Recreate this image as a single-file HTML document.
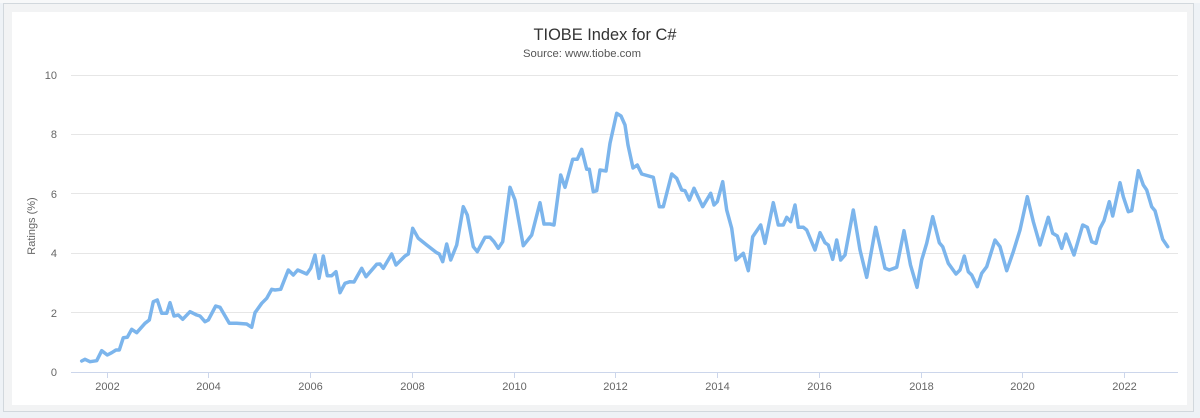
<!DOCTYPE html>
<html>
<head>
<meta charset="utf-8">
<style>
  html,body{margin:0;padding:0;background:#eef2f6;}
  svg{display:block;}
  text{font-family:"Liberation Sans","DejaVu Sans",sans-serif;}
</style>
</head>
<body>
<svg width="1200" height="418" viewBox="0 0 1200 418" xmlns="http://www.w3.org/2000/svg">
  <rect x="0" y="0" width="1200" height="418" fill="#eef2f6"/>
  <rect x="0" y="0" width="1200" height="3" fill="#f7f8f9"/>
  <!-- frame -->
  <rect x="3.5" y="3.5" width="1190" height="408" fill="#f2f3f4" stroke="#d2d8dd" stroke-width="1"/>
  <rect x="12" y="12" width="1175" height="393" fill="#ffffff"/>

  <!-- title -->
  <text x="605" y="40" text-anchor="middle" font-size="17" fill="#333333" textLength="143" lengthAdjust="spacingAndGlyphs">TIOBE Index for C#</text>
  <text x="582" y="57" text-anchor="middle" font-size="11" fill="#555555" textLength="118" lengthAdjust="spacingAndGlyphs">Source: www.tiobe.com</text>

  <!-- gridlines -->
  <g stroke="#e6e6e6" stroke-width="1">
    <line x1="71" y1="75.5" x2="1178" y2="75.5"/>
    <line x1="71" y1="134.5" x2="1178" y2="134.5"/>
    <line x1="71" y1="193.5" x2="1178" y2="193.5"/>
    <line x1="71" y1="253.5" x2="1178" y2="253.5"/>
    <line x1="71" y1="312.5" x2="1178" y2="312.5"/>
  </g>
  <line x1="71" y1="372.5" x2="1178" y2="372.5" stroke="#ccd6eb" stroke-width="1"/>
  <g stroke="#ccd6eb" stroke-width="1">
    <line x1="107.5" y1="372" x2="107.5" y2="378"/>
    <line x1="208.5" y1="372" x2="208.5" y2="378"/>
    <line x1="310.5" y1="372" x2="310.5" y2="378"/>
    <line x1="412.5" y1="372" x2="412.5" y2="378"/>
    <line x1="514.5" y1="372" x2="514.5" y2="378"/>
    <line x1="615.5" y1="372" x2="615.5" y2="378"/>
    <line x1="717.5" y1="372" x2="717.5" y2="378"/>
    <line x1="819.5" y1="372" x2="819.5" y2="378"/>
    <line x1="921.5" y1="372" x2="921.5" y2="378"/>
    <line x1="1022.5" y1="372" x2="1022.5" y2="378"/>
    <line x1="1124.5" y1="372" x2="1124.5" y2="378"/>
  </g>

  <!-- y labels -->
  <g font-size="11" fill="#666666" text-anchor="end">
    <text x="57" y="79">10</text>
    <text x="57" y="138">8</text>
    <text x="57" y="198">6</text>
    <text x="57" y="257">4</text>
    <text x="57" y="317">2</text>
    <text x="57" y="376">0</text>
  </g>
  <text transform="translate(35,226) rotate(-90)" text-anchor="middle" font-size="11" fill="#666666">Ratings (%)</text>

  <!-- x labels -->
  <g font-size="11" fill="#666666" text-anchor="middle">
    <text x="107.5" y="390">2002</text>
    <text x="208.5" y="390">2004</text>
    <text x="310.5" y="390">2006</text>
    <text x="412.5" y="390">2008</text>
    <text x="514.5" y="390">2010</text>
    <text x="615.5" y="390">2012</text>
    <text x="717.5" y="390">2014</text>
    <text x="819.5" y="390">2016</text>
    <text x="921.5" y="390">2018</text>
    <text x="1022.5" y="390">2020</text>
    <text x="1124.5" y="390">2022</text>
  </g>

  <!-- series -->
  <polyline fill="none" stroke="#7cb5ec" stroke-width="3.5" stroke-linejoin="round" stroke-linecap="round"
    points="81.7,361 85,359.3 90,361.7 96.7,360.7 101.7,350.7 107.3,355 111.7,352.7 116,350 119.3,350 123.3,337.7 127.3,337.3 131.7,329.3 136.7,332.7 145,323.3 149.3,320 153.3,301.7 157.3,300 161.7,313.3 166.7,313.3 170,302.7 174,316 178.3,315 182.7,319.3 190,311.7 196.7,315 200,316 205,321.7 208.3,320 215.7,306 220,307.3 229.3,323.3 236.7,323.3 246.7,324 251.7,327.3 255,312.7 261.7,303.3 266.7,298.3 271.7,289.3 275,290 280.7,289.3 288.3,270 293.3,275 297.7,270 306.7,274 310.7,268.3 315,255 319,278.3 323.3,256 327.3,275.7 331.7,275.7 336,271.7 340,292.7 345,283.3 350,281.7 354,282 361.7,268.3 366,276.7 376.7,264.3 380,264 383.3,268.3 391.7,254 396,265 405,256 408.3,254 412.7,228.3 418.3,238.3 426.7,245 436.7,252.7 439.3,254 442.7,261.7 446.7,244 450.7,260 456.7,245 463.3,206.7 467.3,215 473.3,246.7 477.3,251.7 485,237.3 490,237.3 494,241.7 498.3,248.3 502.7,241.7 510,187.3 515,200 523.3,245.7 531.7,235 540,202.7 544,224 550,224 554,225 560.7,175 565,187.3 572.7,159.3 577.3,159.3 581.7,149.3 586.7,169.3 589.3,169.3 593.3,191.7 596.7,190.7 600,170 606,171 610,143.3 616.7,113.3 621,116 625,125 628,145 633,168 637.3,165 641.7,174 653.3,177.3 659.3,206.7 663.3,206.7 671.7,174 676.7,178.3 681.7,190 685,190.7 689.3,200 694,188.3 702.7,206.7 710.7,193.3 714,205 717.3,201.7 722.7,181.7 726.7,210 731.7,228.3 736,260 743.3,253.3 748.3,270.7 752.7,236.7 760.7,225 765,243.3 773.3,202.7 778.3,225 783.3,225 786.7,217.3 790.7,221.7 795,205 798.3,227.3 803.3,227.3 806.7,230 815,250 820,232.7 825,242.7 828.3,245 832.7,259.3 836.7,240 840.7,260 845,255 853.3,210 860,250 866.7,277.3 875.7,227.3 885,268.3 889.3,270 896.7,267.3 904,230.7 910.5,265 917,287.3 921.7,260 926.7,243.3 932.7,216.7 939.3,242.7 942.7,246.7 948.3,263.3 956,274 960,270 964.3,256 968.3,271.7 971.7,275 977.3,286.7 981.7,273.3 986.7,266.7 995,240 1000,246.7 1006.7,270.7 1013.3,251.7 1020,230 1027.3,196.7 1033.3,221.7 1040,245 1048.3,217.3 1052.7,233.3 1057.3,236 1061.7,248.3 1066,234 1074,255 1082.7,225 1087.3,227.3 1091.7,241.7 1096,243.3 1100,228.3 1104,220.7 1109.3,201.7 1112.7,216 1120,182.7 1123.3,196.7 1128.3,211.7 1131.7,210.7 1138.3,170.7 1143.3,185 1146.7,190 1151.7,206.7 1155,210.7 1162.7,239.3 1167.7,246.7"/>
</svg>
</body>
</html>
